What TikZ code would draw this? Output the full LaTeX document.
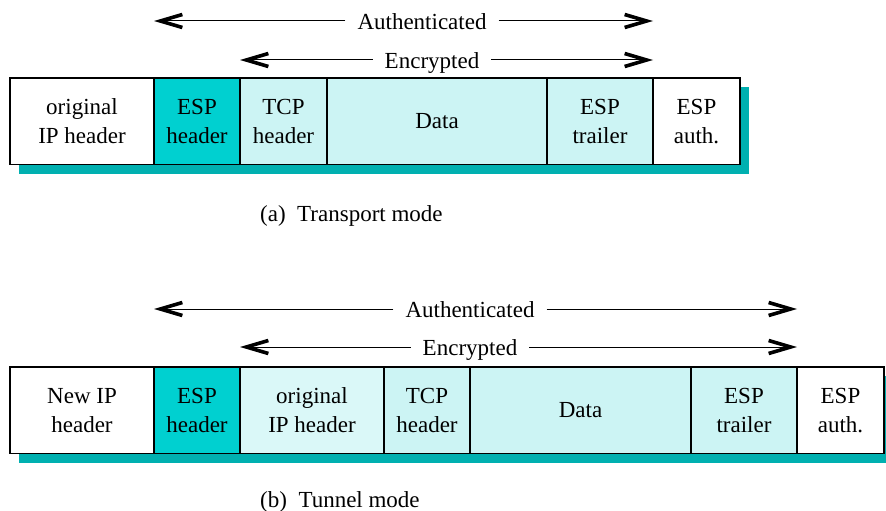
\documentclass[tikz,border=0pt]{standalone}
\usepackage{fontspec}
\setmainfont{Liberation Serif}
\usetikzlibrary{arrows.meta,positioning,backgrounds}

\definecolor{espdark}{RGB}{0,208,208}
\definecolor{esplight}{RGB}{204,244,244}
\definecolor{esppale}{RGB}{218,248,248}
\definecolor{espshadow}{RGB}{0,176,176}

\tikzset{
  field/.style={draw, fill=white, line width=1.2pt, minimum height=86.5pt, inner sep=0pt,
    outer sep=0pt, align=center, font=\fontsize{23}{29}\selectfont},
  span/.style={inner xsep=12pt, inner ysep=0pt, text height=17pt, text depth=0pt,
    font=\fontsize{23}{29}\selectfont},
  spanarrow/.style={line width=1pt, ->, >={Straight Barb[length=22pt,width=13pt,line width=3.6pt]}},
  caption/.style={anchor=base west, inner sep=0pt, font=\fontsize{23}{29}\selectfont},
}

\begin{document}
\begin{tikzpicture}[x=1pt,y=-1pt]
  \useasboundingbox (0,0) rectangle (886,511);

  % (a) transport mode
  \node[field, minimum width=144pt, anchor=north west] (oip) at (10,78) {original\\IP header};
  \node[field, fill=espdark, minimum width=86pt, right=0pt of oip] (esph) {ESP\\header};
  \node[field, fill=esplight, minimum width=87pt, right=0pt of esph] (tcp) {TCP\\header};
  \node[field, fill=esplight, minimum width=220pt, right=0pt of tcp] (data) {Data};
  \node[field, fill=esplight, minimum width=106pt, right=0pt of data] (trl) {ESP\\trailer};
  \node[field, minimum width=87pt, right=0pt of trl] (espa) {ESP\\auth.};
  \begin{scope}[on background layer]
    \fill[espshadow] ([shift={(9,9)}]oip.north west) rectangle ([shift={(9,9)}]espa.south east);
  \end{scope}

  \node[span] (auth) at (422,21) {Authenticated};
  \draw[spanarrow] (auth.west) -- (auth.west -| esph.west);
  \draw[spanarrow] (auth.east) -- (auth.east -| espa.west);
  \node[span] (enc) at (432,60) {Encrypted};
  \draw[spanarrow] (enc.west) -- (enc.west -| tcp.west);
  \draw[spanarrow] (enc.east) -- (enc.east -| espa.west);

  \node[caption] (capa) at (260,221.7) {(a)\ \ Transport mode};

  % (b) tunnel mode
  \node[field, minimum width=144pt, anchor=north west] (nip) at (10,367) {New IP\\header};
  \node[field, fill=espdark, minimum width=86pt, right=0pt of nip] (esph2) {ESP\\header};
  \node[field, fill=esppale, minimum width=144pt, right=0pt of esph2] (oip2) {original\\IP header};
  \node[field, fill=esplight, minimum width=86pt, right=0pt of oip2] (tcp2) {TCP\\header};
  \node[field, fill=esplight, minimum width=221pt, right=0pt of tcp2] (data2) {Data};
  \node[field, fill=esplight, minimum width=106pt, right=0pt of data2] (trl2) {ESP\\trailer};
  \node[field, minimum width=87pt, right=0pt of trl2] (espa2) {ESP\\auth.};
  \begin{scope}[on background layer]
    \fill[espshadow] ([shift={(9,9)}]nip.north west) rectangle ([shift={(9,9)}]espa2.south east);
  \end{scope}

  \node[span] (auth2) at (470,309) {Authenticated};
  \draw[spanarrow] (auth2.west) -- (auth2.west -| esph2.west);
  \draw[spanarrow] (auth2.east) -- (auth2.east -| espa2.west);
  \node[span] (enc2) at (470,347) {Encrypted};
  \draw[spanarrow] (enc2.west) -- (enc2.west -| oip2.west);
  \draw[spanarrow] (enc2.east) -- (enc2.east -| espa2.west);

  \node[caption] (capb) at (260,507) {(b)\ \ Tunnel mode};
\end{tikzpicture}
\end{document}
